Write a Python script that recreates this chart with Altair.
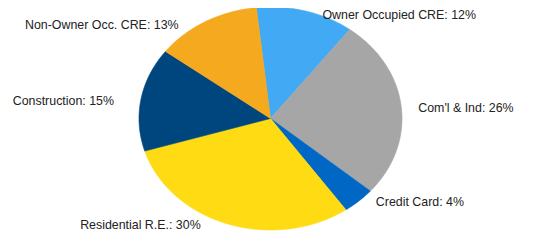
import altair as alt
import pandas as pd

categories = ["Owner Occupied CRE", "Com'l & Ind", "Credit Card",
              "Residential R.E.", "Construction", "Non-Owner Occ. CRE"]
values = [12, 26, 4, 30, 15, 13]
colors = ["#42A9F5", "#A6A6A6", "#0068C4", "#FEDB12", "#00467E", "#F5A91E"]

df = pd.DataFrame({"category": categories, "value": values,
                   "idx": list(range(len(categories)))})

START = -0.108          # start angle (radians, clockwise from 12 o'clock)
N = 48                  # arc resolution per slice
W, H = 529, 224         # drawing area
CX, CY = 262.5, 110.5   # pie centre in plot pixels
RX, RY = 131.5, 111.5   # ellipse radii in pixels

xscale = alt.Scale(domain=[-CX / RX, (W - CX) / RX], nice=False, zero=False)
yscale = alt.Scale(domain=[-(H - CY) / RY, CY / RY], nice=False, zero=False)
cscale = alt.Scale(domain=categories, range=colors)

base = (
    alt.Chart(df)
    .transform_joinaggregate(total="sum(value)")
    .transform_window(cum="sum(value)", sort=[alt.SortField("idx")], frame=[None, 0])
    .transform_calculate(
        a0=f"{START} + 2*PI*(datum.cum - datum.value)/datum.total",
        a1=f"{START} + 2*PI*datum.cum/datum.total",
    )
)

slices = (
    base.transform_calculate(steps=f"sequence(-1, {N + 2})")
    .transform_flatten(["steps"])
    .transform_calculate(
        r=f"(datum.steps < 0 || datum.steps > {N}) ? 0 : 1",
        ang=f"datum.a0 + (datum.a1 - datum.a0) * clamp(datum.steps, 0, {N}) / {N}",
    )
    .transform_calculate(px="datum.r * sin(datum.ang)", py="datum.r * cos(datum.ang)")
    .mark_line(filled=True, strokeWidth=0.6, interpolate="linear")
    .encode(
        x=alt.X("px:Q", scale=xscale, axis=None),
        y=alt.Y("py:Q", scale=yscale, axis=None),
        detail="category:N",
        order=alt.Order("steps:Q"),
        fill=alt.Fill("category:N", scale=cscale, legend=None),
        stroke=alt.Stroke("category:N", scale=cscale, legend=None),
    )
)

lab = (
    base.transform_calculate(mid="(datum.a0 + datum.a1) / 2")
    .transform_calculate(
        lx="sin(datum.mid)",
        ly="cos(datum.mid) * (cos(datum.mid) > 0 ? 0.975 : 0.995)",
        label="datum.category + ': ' + datum.value + '%'",
    )
)
text_style = dict(baseline="middle", dy=1.5, font="Liberation Sans", fontSize=12.4, color="#222222")
right = lab.transform_filter("datum.lx >= 0").mark_text(align="left", dx=17, **text_style).encode(
    x=alt.X("lx:Q", scale=xscale, axis=None),
    y=alt.Y("ly:Q", scale=yscale, axis=None),
    text="label:N",
)
left = lab.transform_filter("datum.lx < 0").mark_text(align="right", dx=-27, **text_style).encode(
    x=alt.X("lx:Q", scale=xscale, axis=None),
    y=alt.Y("ly:Q", scale=yscale, axis=None),
    text="label:N",
)

chart = (
    alt.layer(slices, right, left)
    .properties(width=W, height=H, padding=0, autosize=alt.AutoSizeParams(type="none"),
                background="white")
    .configure_view(stroke=None)
)

chart.save("out.html", embed_options={"renderer": "svg", "actions": False})
